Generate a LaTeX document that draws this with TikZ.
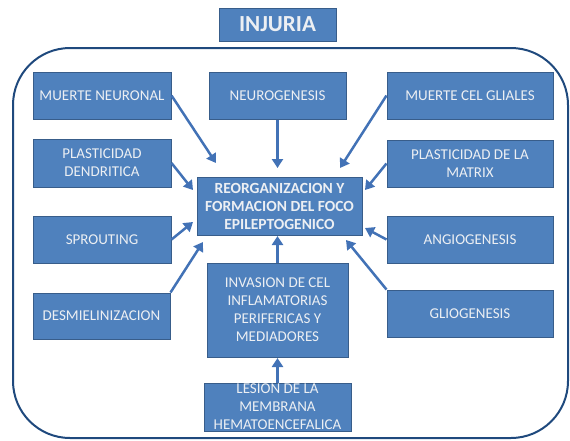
\documentclass[tikz,border=0pt]{standalone}
\usepackage{fontspec}
\setmainfont{Carlito}
\usetikzlibrary{arrows.meta}
\definecolor{boxfill}{RGB}{79,129,189}
\definecolor{boxdraw}{RGB}{56,93,138}
\definecolor{framec}{RGB}{31,73,125}
\definecolor{txt}{RGB}{236,239,243}
\definecolor{arrowc}{RGB}{66,114,182}
\begin{document}
\begin{tikzpicture}[x=1pt,y=-1pt,
  box/.style={draw=boxdraw, line width=1pt, fill=boxfill, text=txt,
    font=\fontsize{15}{18}\selectfont, align=center, inner sep=2pt},
  conn/.style={draw=arrowc, line width=2.5pt, -{Triangle[length=9pt,width=11pt]}}]
\useasboundingbox (0,0) rectangle (570,440);
\draw[framec, line width=2pt, rounded corners=57pt] (13,48) rectangle (568,438);

\node[box, minimum width=117pt, minimum height=33pt, font=\fontsize{23}{25}\selectfont\bfseries] (inj) at (277.5,24.5) {INJURIA};

\node[box, minimum width=138pt, minimum height=47pt] (mn) at (102,95.5) {MUERTE NEURONAL};
\node[box, minimum width=137pt, minimum height=47pt] (ng) at (277.5,95.5) {NEUROGENESIS};
\node[box, minimum width=166pt, minimum height=47pt] (mcg) at (470,95.5) {MUERTE CEL GLIALES};
\node[box, minimum width=138pt, minimum height=48pt] (pd) at (102,163) {PLASTICIDAD\\DENDRITICA};
\node[box, minimum width=166pt, minimum height=47pt] (pm) at (470,163.5) {PLASTICIDAD DE LA\\MATRIX};
\node[box, minimum width=165pt, minimum height=58pt, font=\fontsize{15.5}{18}\selectfont\bfseries] (re) at (279.5,206) {REORGANIZACION Y\\FORMACION DEL FOCO\\EPILEPTOGENICO};
\node[box, minimum width=138pt, minimum height=47pt] (sp) at (102,239.5) {SPROUTING};
\node[box, minimum width=166pt, minimum height=47pt] (an) at (470,239.5) {ANGIOGENESIS};
\node[box, minimum width=137pt, minimum height=46pt] (de) at (101.5,316) {DESMIELINIZACION};
\node[box, minimum width=166pt, minimum height=47pt] (gl) at (470,313.5) {GLIOGENESIS};
\node[box, minimum width=141pt, minimum height=94pt] (inv) at (277.5,310) {INVASION DE CEL\\INFLAMATORIAS\\PERIFERICAS Y\\MEDIADORES};
\node[box, minimum width=147pt, minimum height=48pt, inner ysep=0pt] (le) at (277.5,407) {LESION DE LA\\MEMBRANA\\HEMATOENCEFALICA};

\coordinate (tmn) at (216,163);
\coordinate (tng) at (277.5,168);
\coordinate (tmcg) at (340,168);
\coordinate (tpd) at (193,190);
\coordinate (tpm) at (365,190);
\coordinate (tsp) at (193,222);
\coordinate (tan) at (365,228);
\coordinate (tde) at (203,242);
\coordinate (tgl) at (346,240);
\coordinate (tinv) at (277.5,236);
\coordinate (tle) at (277.5,358);

\draw[conn] (mn.east) -- (tmn);
\draw[conn] (ng.south) -- (tng);
\draw[conn] (mcg.west) -- (tmcg);
\draw[conn] (pd.east) -- (tpd);
\draw[conn] (pm.west) -- (tpm);
\draw[conn] (sp.east) -- (tsp);
\draw[conn] (an.west) -- (tan);
\draw[conn] (de.north east) -- (tde);
\draw[conn] (gl.north west) -- (tgl);
\draw[conn] (inv.north) -- (tinv);
\draw[conn] (le.north) -- (tle);
\end{tikzpicture}
\end{document}
